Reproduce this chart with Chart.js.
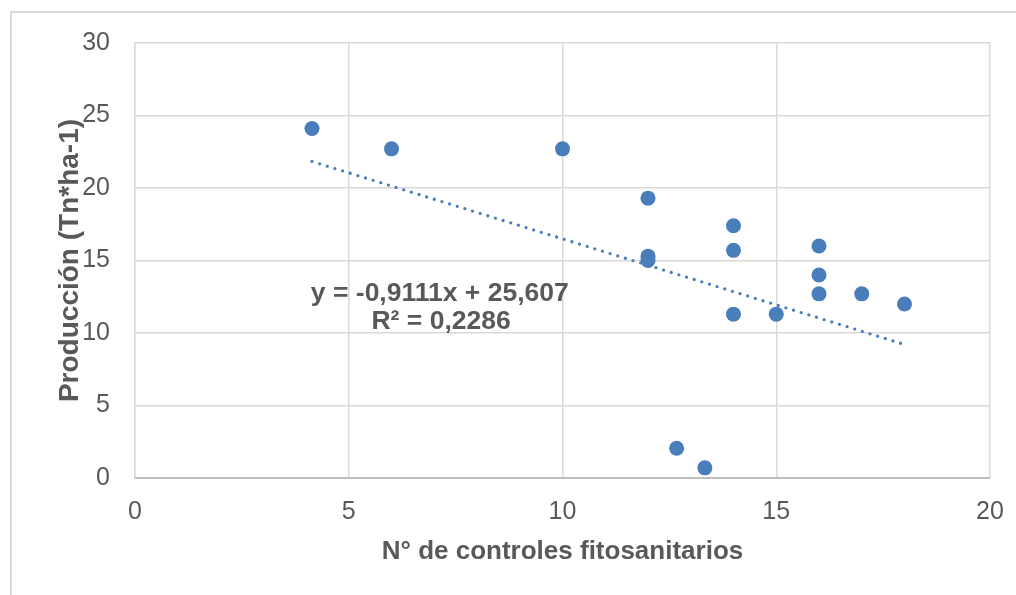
<!DOCTYPE html>
<html>
<head>
<meta charset="utf-8">
<script src="https://cdn.jsdelivr.net/npm/chart.js@4/dist/chart.umd.min.js"></script>
<style>
  html, body { margin: 0; padding: 0; background: #ffffff; }
  #wrap { position: relative; width: 1016px; height: 595px; }
</style>
</head>
<body>
<div id="wrap"><canvas id="c" width="1016" height="595"></canvas></div>
<script>
// ---- data ----
const controles = [4.14, 6, 10, 12, 12, 12, 12.67, 13.33, 14, 14, 14, 15, 16, 16, 16, 17, 18];
const produccion = [24.1, 22.7, 22.7, 19.3, 15.3, 15.0, 2.05, 0.7, 17.4, 15.7, 11.3, 11.3, 16.0, 14.0, 12.7, 12.7, 12.0];
// linear trendline end points (as drawn: y = -0,9111x + 25,607)
const trendX = [4.14, 18];
const trendY = [21.83, 9.21];
const xTicks = [0, 5, 10, 15, 20];
const yTicks = [0, 5, 10, 15, 20, 25, 30];
const equationText = ["y = -0,9111x + 25,607", "R² = 0,2286"];
const equationPos = [[7.13, 12.69], [7.16, 10.78]];
const xTitle = "N° de controles fitosanitarios";
const yTitle = "Producción (Tn*ha-1)";

const BLUE = '#4a7ebb';
const GRID = '#d9d9d9';
const TEXT = '#595959';
const TICKFONT = "'Liberation Sans Narrow', 'Arial Narrow', 'Liberation Sans', Arial, sans-serif";
const BOLDFONT = "'Liberation Sans', Arial, sans-serif";

const framePlugin = {
  id: 'frame',
  beforeDraw(chart) {
    const ctx = chart.ctx;
    ctx.save();
    ctx.strokeStyle = GRID;
    ctx.lineWidth = 2;
    ctx.beginPath();
    ctx.moveTo(11, chart.height);
    ctx.lineTo(11, 12);
    ctx.lineTo(chart.width, 12);
    ctx.stroke();
    ctx.restore();
  }
};

const equationPlugin = {
  id: 'equation',
  afterDatasetsDraw(chart) {
    const ctx = chart.ctx;
    const xs = chart.scales.x, ys = chart.scales.y;
    ctx.save();
    ctx.fillStyle = TEXT;
    ctx.font = "bold 26.5px " + BOLDFONT;
    ctx.textAlign = 'center';
    ctx.textBaseline = 'middle';
    equationText.forEach((t, i) => {
      ctx.fillText(t, xs.getPixelForValue(equationPos[i][0]), ys.getPixelForValue(equationPos[i][1]));
    });
    ctx.restore();
  }
};

new Chart(document.getElementById('c'), {
  type: 'scatter',
  data: {
    datasets: [
      {
        label: 'Producción',
        data: controles.map((x, i) => ({ x: x, y: produccion[i] })),
        backgroundColor: BLUE,
        borderColor: BLUE,
        pointRadius: 7.5,
        pointHoverRadius: 7.5,
        borderWidth: 0,
        order: 1
      },
      {
        label: 'Lineal',
        type: 'line',
        data: trendX.map((x, i) => ({ x: x, y: trendY[i] })),
        borderColor: BLUE,
        borderWidth: 3.3,
        borderDash: [0, 8],
        borderCapStyle: 'round',
        pointRadius: 0,
        fill: false,
        order: 2
      }
    ]
  },
  options: {
    responsive: false,
    animation: false,
    devicePixelRatio: 1,
    layout: { padding: { top: 43, right: 26, left: 0, bottom: 0 } },
    plugins: { legend: { display: false }, tooltip: { enabled: false } },
    scales: {
      x: {
        type: 'linear',
        min: 0, max: 20,
        afterBuildTicks(scale) { scale.ticks = xTicks.map(v => ({ value: v })); },
        afterFit(scale) { scale.height = 117; scale.paddingLeft = 0; scale.paddingRight = 0; },
        grid: { color: GRID, lineWidth: 1.5, drawTicks: false },
        border: { color: '#bfbfbf', width: 2 },
        ticks: { color: TEXT, font: { family: TICKFONT, size: 25 }, padding: 19, maxRotation: 0 },
        title: { display: true, text: xTitle, color: TEXT, font: { family: BOLDFONT, size: 26, weight: 'bold' }, padding: { top: 0, bottom: 28 } }
      },
      y: {
        type: 'linear',
        min: 0, max: 30,
        afterBuildTicks(scale) { scale.ticks = yTicks.map(v => ({ value: v })); },
        afterFit(scale) { scale.width = 135; },
        grid: { color: GRID, lineWidth: 1.5, drawTicks: false },
        border: { color: GRID, width: 1.5 },
        ticks: { color: TEXT, font: { family: TICKFONT, size: 25 }, padding: 25 },
        title: { display: true, text: yTitle, color: TEXT, font: { family: BOLDFONT, size: 28, weight: 'bold' }, padding: { top: 53, bottom: 0 } }
      }
    }
  },
  plugins: [framePlugin, equationPlugin]
});
</script>
</body>
</html>
